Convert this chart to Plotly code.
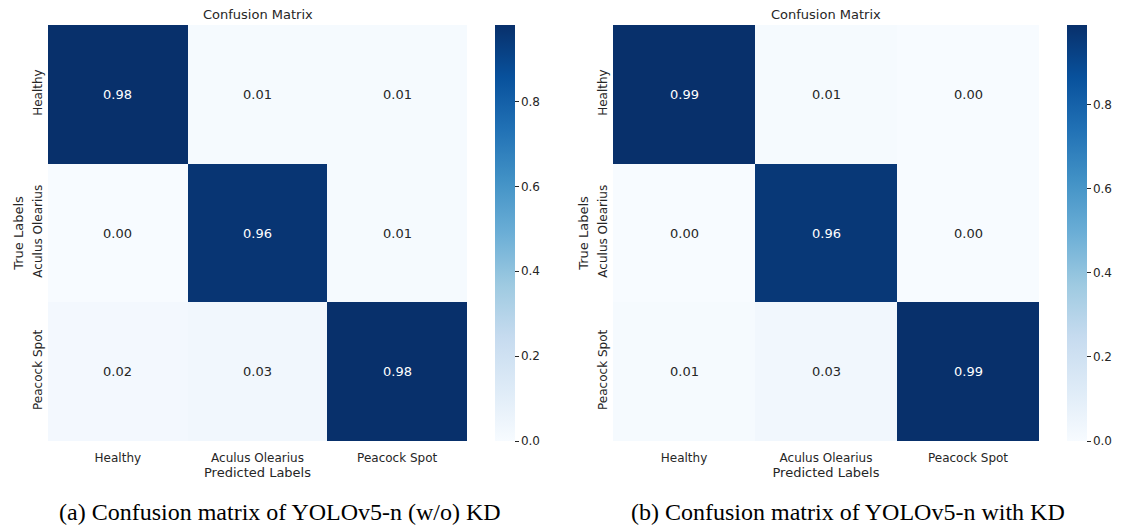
import plotly.graph_objects as go

classes = ["Healthy", "Aculus Olearius", "Peacock Spot"]
cm_without_kd = [
    [0.98, 0.01, 0.01],
    [0.00, 0.96, 0.01],
    [0.02, 0.03, 0.98],
]
cm_with_kd = [
    [0.99, 0.01, 0.00],
    [0.00, 0.96, 0.00],
    [0.01, 0.03, 0.99],
]
captions = [
    "(a) Confusion matrix of YOLOv5-n (w/o) KD",
    "(b) Confusion matrix of YOLOv5-n with KD",
]
cbar_ticks = [0.0, 0.2, 0.4, 0.6, 0.8]

W, H = 1126, 527
blues = ["#f7fbff", "#deebf7", "#c6dbef", "#9ecae1", "#6baed6",
         "#4292c6", "#2171b5", "#08519c", "#08306b"]
colorscale = [[i / (len(blues) - 1), c] for i, c in enumerate(blues)]
TXT = "#262626"
FONT = "DejaVu Sans"

# pixel layout
panels = [
    dict(x0=48, x1=467, cb=495, cap=280),
    dict(x0=613, x1=1039, cb=1067, cap=848),
]
top, bottom = 25, 441

fig = go.Figure()
for i, (cm, p) in enumerate(zip([cm_without_kd, cm_with_kd], panels)):
    n = "" if i == 0 else str(i + 1)
    zmax = max(max(r) for r in cm)
    txtcolors = [["white" if v > zmax / 2 else TXT for v in row] for row in cm]
    fig.add_trace(go.Heatmap(
        z=cm, x=classes, y=classes,
        xaxis="x" + n, yaxis="y" + n,
        colorscale=colorscale, zmin=0, zmax=zmax,
        showscale=True,
        colorbar=dict(
            x=p["cb"] / W, xanchor="left", xpad=0,
            y=1 - (top + bottom) / 2 / H, yanchor="middle", ypad=0,
            len=bottom - top, lenmode="pixels",
            thickness=20, thicknessmode="pixels",
            outlinewidth=0,
            tickvals=cbar_ticks, ticktext=[f"{t:.1f}" for t in cbar_ticks],
            ticks="outside", ticklen=4, tickcolor=TXT,
            tickfont=dict(family=FONT, size=12, color=TXT),
        ),
        hoverongaps=False,
        showlegend=False,
    ))
    # cell annotations
    for r, row in enumerate(cm):
        for c, v in enumerate(row):
            fig.add_annotation(
                x=classes[c], y=classes[r], xref="x" + n, yref="y" + n,
                text=f"{v:.2f}", showarrow=False,
                font=dict(family=FONT, size=13, color=txtcolors[r][c]),
            )
    xd = [p["x0"] / W, p["x1"] / W]
    yd = [1 - bottom / H, 1 - top / H]
    fig.update_layout(**{
        "xaxis" + n: dict(
            domain=xd, anchor="y" + n, showgrid=False, zeroline=False,
            ticks="", ticklabelstandoff=8,
            tickfont=dict(family=FONT, size=12, color=TXT),
            title=dict(text="Predicted Labels", standoff=2,
                       font=dict(family=FONT, size=13, color=TXT)),
            showline=False, fixedrange=True,
        ),
        "yaxis" + n: dict(
            domain=yd, anchor="x" + n, showgrid=False, zeroline=False,
            autorange="reversed", ticks="", tickangle=-90,
            ticklabelstandoff=3,
            tickfont=dict(family=FONT, size=12, color=TXT),
            title=dict(text="True Labels", standoff=4,
                       font=dict(family=FONT, size=13, color=TXT)),
            showline=False, fixedrange=True,
        ),
    })
    cx = (p["x0"] + p["x1"]) / 2 / W
    fig.add_annotation(
        x=cx, y=1 - 15 / H, xref="paper", yref="paper",
        text="Confusion Matrix", showarrow=False,
        xanchor="center", yanchor="middle",
        font=dict(family=FONT, size=13, color=TXT),
    )
    fig.add_annotation(
        x=p["cap"] / W, y=1 - 512 / H,
        xref="paper", yref="paper",
        text=captions[i], showarrow=False,
        xanchor="center", yanchor="middle",
        font=dict(family="Liberation Serif", size=24, color="#000000"),
    )

fig.update_layout(
    width=W, height=H,
    margin=dict(l=0, r=0, t=0, b=0),
    paper_bgcolor="white", plot_bgcolor="white",
)
fig.write_html(
    "out.html",
    config={"displayModeBar": False},
    post_script="document.body.style.margin='0';document.body.style.padding='0';",
)
